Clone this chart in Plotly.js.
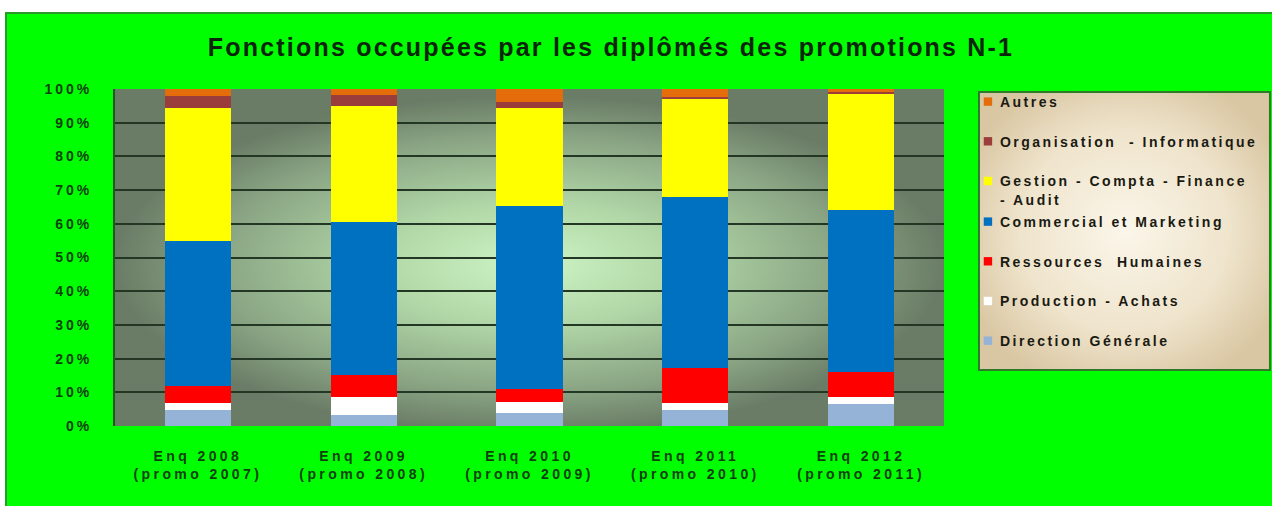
<!DOCTYPE html>
<html>
<head>
<meta charset="utf-8">
<script src="https://cdn.plot.ly/plotly-3.0.1.min.js"></script>
<style>
  html, body { margin:0; padding:0; background:#ffffff; width:1272px; height:506px; overflow:hidden; }
  #chart { position:absolute; left:5px; top:12px; width:1267px; height:494px; }
  #frame { position:absolute; left:5px; top:12px; width:1267px; height:494px; box-sizing:border-box;
           border-top:2px solid #2a9a2a; border-left:2px solid #2a9a2a; pointer-events:none; z-index:5; }
  .xtick text { letter-spacing:3.4px; }
  .ytick text { letter-spacing:3px; }
  .legendtext, .legend2text { letter-spacing:2.5px; }
  .gtitle { letter-spacing:2.2px; }
  #chart .legendpoints path, #chart .legend2points path { transform-box: fill-box; transform-origin: center; transform: translate(28px, 0px) scale(0.7); }
</style>
</head>
<body>
<div id="chart"></div>
<div id="frame"></div>
<script>
// ---- data (shares of graduates) ----
const categories = [
  'Enq 2008<br>(promo 2007)',
  'Enq 2009<br>(promo 2008)',
  'Enq 2010<br>(promo 2009)',
  'Enq 2011<br>(promo 2010)',
  'Enq 2012<br>(promo 2011)'
];
const directionGenerale   = [0.047, 0.034, 0.039, 0.047, 0.066];
const productionAchats    = [0.022, 0.052, 0.033, 0.022, 0.020];
const ressourcesHumaines  = [0.050, 0.064, 0.037, 0.102, 0.074];
const commercialMarketing = [0.430, 0.455, 0.543, 0.510, 0.482];
const gestionCompta       = [0.394, 0.344, 0.292, 0.289, 0.343];
const organisationInfo    = [0.035, 0.033, 0.017, 0.006, 0.005];
const autres              = [0.023, 0.018, 0.041, 0.025, 0.010];

const seriesNames = [
  'Direction Générale',
  'Production - Achats',
  'Ressources  Humaines',
  'Commercial et Marketing',
  'Gestion - Compta - Finance<br>- Audit',
  'Organisation  - Informatique',
  'Autres'
];
const seriesValues = [directionGenerale, productionAchats, ressourcesHumaines,
  commercialMarketing, gestionCompta, organisationInfo, autres];
const seriesColors = ['#95b3d7', '#ffffff', '#ff0000', '#0070c0', '#ffff00', '#9b3d3a', '#e46c0a'];
// which legend block each series is listed in (upper block / lower block)
const seriesLegend = ['legend2', 'legend2', 'legend2', 'legend2', 'legend', 'legend', 'legend'];

const traces = seriesValues.map((vals, i) => ({
  type: 'bar',
  name: seriesNames[i],
  x: categories,
  y: vals,
  legend: seriesLegend[i],
  legendgroup: 'g' + i,
  legendrank: seriesNames.length - i,
  marker: { color: seriesColors[i], line: { width: 0 } },
  hoverinfo: 'name+y'
}));

const font = 'Liberation Sans, Arial, sans-serif';

function svgUri(svg) { return 'data:image/svg+xml;charset=utf-8,' + encodeURIComponent(svg); }

const plotBg = svgUri(
  "<svg xmlns='http://www.w3.org/2000/svg' width='829' height='337' preserveAspectRatio='none' viewBox='0 0 829 337'>" +
  "<defs><radialGradient id='g' cx='0.5' cy='0.52' r='0.5'>" +
  "<stop offset='0' stop-color='#cdf4c4'/>" +
  "<stop offset='0.35' stop-color='#b2d8a8'/>" +
  "<stop offset='0.75' stop-color='#8aa584'/>" +
  "<stop offset='1' stop-color='#6a7c66'/>" +
  "</radialGradient></defs><rect width='829' height='337' fill='url(#g)'/></svg>");

const legendBg = svgUri(
  "<svg xmlns='http://www.w3.org/2000/svg' width='291' height='278' preserveAspectRatio='none' viewBox='0 0 291 278'>" +
  "<defs><radialGradient id='b' cx='0.5' cy='0.5' r='0.6'>" +
  "<stop offset='0' stop-color='#fbf6ea'/>" +
  "<stop offset='0.6' stop-color='#efe4cc'/>" +
  "<stop offset='1' stop-color='#d9c6a2'/>" +
  "</radialGradient></defs><rect width='291' height='278' fill='url(#b)'/></svg>");

const legendFont = { family: font, size: 14, color: '#1a1a12', weight: 'bold' };

const layout = {
  width: 1267,
  height: 494,
  paper_bgcolor: '#00ff00',
  plot_bgcolor: 'rgba(0,0,0,0)',
  margin: { l: 110, r: 328, t: 77, b: 80, pad: 0 },
  barmode: 'stack',
  bargap: 0.6,
  title: {
    text: 'Fonctions occupées par les diplômés des promotions N-1',
    font: { family: font, size: 25, color: '#0a260a', weight: 'bold' },
    xref: 'container', x: 0.4783, xanchor: 'center',
    yref: 'container', y: 0.929, yanchor: 'middle'
  },
  xaxis: {
    type: 'category',
    showgrid: false,
    zeroline: false,
    showline: false,
    ticks: '',
    ticklabelstandoff: 20,
    tickfont: { family: font, size: 14, color: '#0f3f0f', weight: 'bold' },
    automargin: false,
    fixedrange: true
  },
  yaxis: {
    range: [0, 1],
    dtick: 0.1,
    tickformat: '.0%',
    showgrid: true,
    gridcolor: '#243624',
    gridwidth: 2,
    zeroline: false,
    showline: true,
    linecolor: '#1b5a1b',
    linewidth: 2,
    ticks: '',
    ticklabelstandoff: 18,
    tickfont: { family: font, size: 14, color: '#0f3f0f', weight: 'bold' },
    automargin: false,
    fixedrange: true
  },
  legend: {
    xref: 'container', yref: 'container',
    x: 0.7537, xanchor: 'left',
    y: 0.8502, yanchor: 'top',
    bgcolor: 'rgba(0,0,0,0)',
    borderwidth: 0,
    traceorder: 'grouped',
    tracegroupgap: 18.5,
    valign: 'top',
    font: legendFont
  },
  legend2: {
    xref: 'container', yref: 'container',
    x: 0.7537, xanchor: 'left',
    y: 0.6073, yanchor: 'top',
    bgcolor: 'rgba(0,0,0,0)',
    borderwidth: 0,
    traceorder: 'grouped',
    tracegroupgap: 18.5,
    valign: 'top',
    font: legendFont
  },
  images: [
    { source: plotBg, xref: 'paper', yref: 'paper', x: 0, y: 1, sizex: 1, sizey: 1,
      sizing: 'stretch', xanchor: 'left', yanchor: 'top', layer: 'below' },
    { source: legendBg, xref: 'paper', yref: 'paper', x: 1.0422, y: 0.9911, sizex: 0.351, sizey: 0.8249,
      sizing: 'stretch', xanchor: 'left', yanchor: 'top', layer: 'below' }
  ],
  shapes: [
    { type: 'rect', xref: 'paper', yref: 'paper', x0: 1.0422, x1: 1.3932, y0: 0.1662, y1: 0.9911,
      line: { color: '#2f7a2a', width: 2 }, fillcolor: 'rgba(0,0,0,0)', layer: 'below' }
  ],
  showlegend: true
};

Plotly.newPlot('chart', traces, layout, { displayModeBar: false, staticPlot: true });
</script>
</body>
</html>
